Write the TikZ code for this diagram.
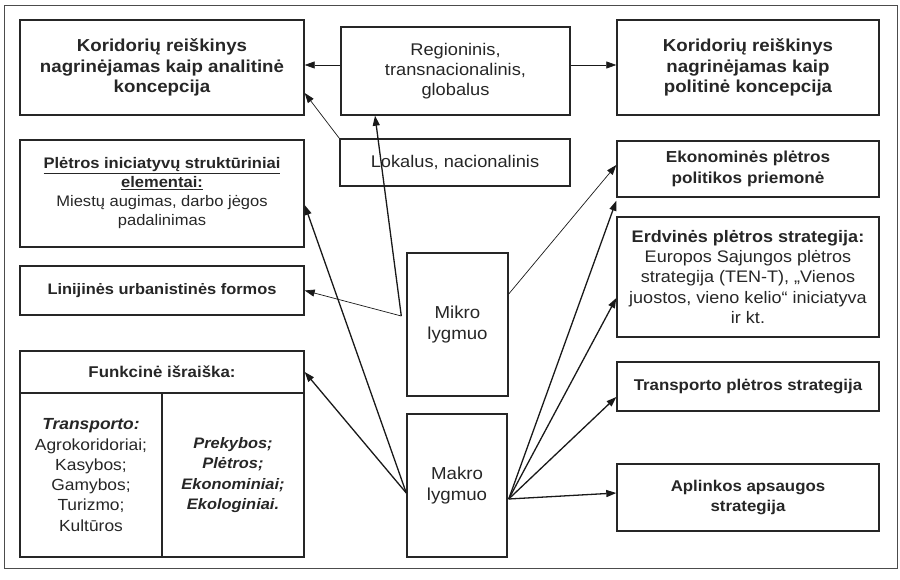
\documentclass[tikz,border=0pt]{standalone}
\usepackage{fontspec}
\setmainfont[FakeStretch=1.08]{Liberation Sans}
\usetikzlibrary{arrows.meta}
\begin{document}
\begin{tikzpicture}[x=1pt,y=-1pt,
  frame/.style={draw=black!85, line width=1.4pt, rectangle, inner sep=0pt,
    align=center, text=black!85},
  box/.style={frame, font=\fontsize{#1}{20.3}\selectfont},
  box/.default=17.3,
  bbox/.style={frame, font=\fontsize{#1}{20.3}\selectfont\bfseries},
  bbox/.default=17.3,
  bibox/.style={frame, font=\fontsize{#1}{20.3}\selectfont\bfseries\itshape},
  thinarrow/.style={draw=black!90, line width=0.7pt, -{Triangle[length=10pt,width=7pt]}},
  thickarrow/.style={draw=black!90, line width=1.3pt, -{Triangle[length=10pt,width=7pt]}},
]
\useasboundingbox (0,0) rectangle (900,580);
% outer frame
\draw[black!70, line width=0.8pt] (4.5,5) rectangle (897,568);

% top row
\node[bbox, minimum width=284pt, minimum height=95pt] (ana) at (162,67.5)
  {Koridorių reiškinys\\ nagrinėjamas kaip analitinė\\ koncepcija};
\node[box=16.9, minimum width=229pt, minimum height=88pt] (reg) at (455.5,71)
  {Regioninis,\\ transnacionalinis,\\ globalus};
\node[bbox, minimum width=262pt, minimum height=95pt] (pol) at (748,67.5)
  {Koridorių reiškinys\\ nagrinėjamas kaip\\ politinė koncepcija};
\node[box=16.9, minimum width=230pt, minimum height=47pt] (lok) at (455,162.5)
  {Lokalus, nacionalinis};

% left column
\node[frame, font=\fontsize{15.3}{19}\selectfont, minimum width=284pt, minimum height=107pt] (ple) at (162,193.5)
  {\underline{\textbf{Plėtros iniciatyvų struktūriniai}}\\
   \underline{\textbf{elementai:}}\\ Miestų augimas, darbo jėgos\\ padalinimas};
\node[bbox=15.2, minimum width=284pt, minimum height=49pt] (lin) at (162,290.5)
  {Linijinės urbanistinės formos};
\node[bbox=15.6, minimum width=284pt, minimum height=42pt] (fh) at (162,372)
  {Funkcinė išraiška:};
\node[box=16.1, minimum width=142pt, minimum height=164pt] (fl) at (91,475)
  {\textbf{\textit{Transporto:}}\\ Agrokoridoriai;\\ Kasybos;\\ Gamybos;\\ Turizmo;\\ Kultūros};
\node[bibox=15.2, minimum width=142pt, minimum height=164pt] (fr) at (233,475)
  {Prekybos;\\ Plėtros;\\ Ekonominiai;\\ Ekologiniai.};

% middle column
\node[box, minimum width=101pt, minimum height=143pt] (mik) at (457.5,324.5)
  {Mikro\\ lygmuo};
\node[box, minimum width=100pt, minimum height=143pt] (mak) at (457,485.5)
  {Makro\\ lygmuo};

% right column
\node[bbox=15.9, minimum width=262pt, minimum height=56pt] (eko) at (748,169)
  {Ekonominės plėtros\\ politikos priemonė};
\node[box=16.7, minimum width=262pt, minimum height=120pt] (erd) at (748,277)
  {\textbf{Erdvinės plėtros strategija:}\\ Europos Sajungos plėtros\\
   strategija (TEN-T), „Vienos\\ juostos, vieno kelio“ iniciatyva\\ ir kt.};
\node[bbox=15.6, minimum width=262pt, minimum height=49pt] (tra) at (748,386.5)
  {Transporto plėtros strategija};
\node[bbox=15.6, minimum width=262pt, minimum height=67pt] (apl) at (748,497.5)
  {Aplinkos apsaugos\\ strategija};

% connectors from the top boxes
\draw[thinarrow] ([yshift=6pt]reg.west) -- ([yshift=2.5pt]ana.east);
\draw[thinarrow] ([yshift=6pt]reg.east) -- ([yshift=2.5pt]pol.west);
\draw[thinarrow] (lok.north west) -- ([yshift=-25.5pt]ana.east);

% connectors from the micro level
\coordinate (mikw) at ([shift={(-5pt,8.5pt)}]mik.west);
\draw[thickarrow] (mikw) -- ([xshift=-80.5pt]reg.south);
\draw[thinarrow] (mikw) -- (lin.east);
\draw[thinarrow] ([yshift=30.5pt]mik.east) -- ([yshift=4pt]eko.west);

% connectors from the macro level
\coordinate (makw) at ([yshift=-7.5pt]mak.west);
\coordinate (make) at ([shift={(1pt,-13.5pt)}]mak.east);
\draw[thickarrow] (makw) -- ([yshift=-11.5pt]ple.east);
\draw[thickarrow] (makw) -- (fh.east);
\draw[thickarrow] (make) -- ([yshift=-3pt]eko.south west);
\draw[thickarrow] (make) -- ([yshift=-21pt]erd.west);
\draw[thickarrow] (make) -- ([yshift=-10.5pt]tra.west);
\draw[thickarrow] (make) -- ([yshift=4.5pt]apl.west);
\end{tikzpicture}
\end{document}
